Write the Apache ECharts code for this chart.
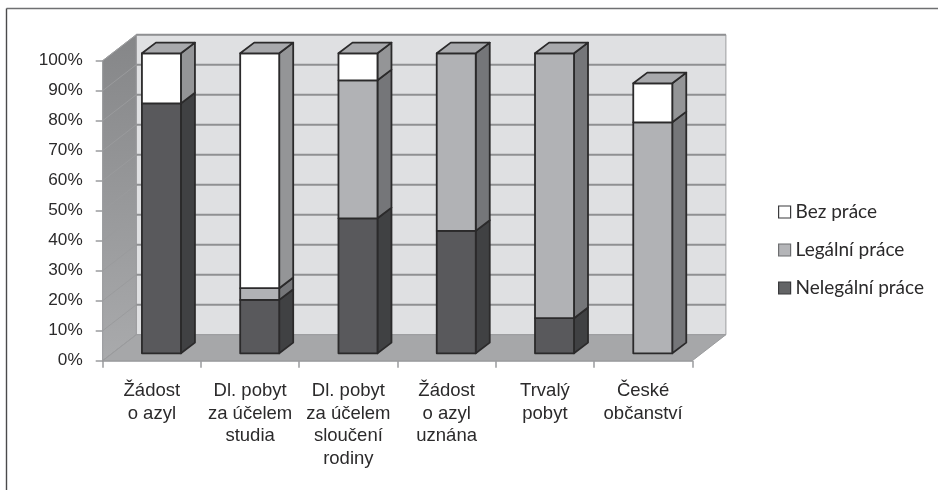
<!DOCTYPE html>
<html>
<head>
<meta charset="utf-8">
<style>
  html, body { margin: 0; padding: 0; background: #fff; }
  #chart { width: 938px; height: 490px; }
</style>
</head>
<body>
<div id="chart"></div>
<script src="https://cdn.jsdelivr.net/npm/echarts@6/dist/echarts.min.js"></script>
<script>
// data
var categories = ['Žádost\no azyl', 'Dl. pobyt\nza účelem\nstudia', 'Dl. pobyt\nza účelem\nsloučení\nrodiny', 'Žádost\no azyl\nuznána', 'Trvalý\npobyt', 'České\nobčanství'];
var nelegalni = [83.3, 17.8, 45, 40.8, 11.7, 0];
var legalni = [0, 3.9, 46, 59.2, 88.3, 77];
var bezPrace = [16.7, 78.3, 9, 0, 0, 13];
var yTicks = [0, 10, 20, 30, 40, 50, 60, 70, 80, 90, 100];

// "3D" look: depth of the room and of the boxes, in px
var DEPTH_X = 33.6, DEPTH_Y = -26;
var BAR_DX = 9.6, BAR_DY = -7.4;
var BOX_DX = 14, BOX_DY = -10.7;
var BAR_W = 39;
var LINE = '#2b2a2b';

var chart = echarts.init(document.getElementById('chart'));

// back wall, side wall, floor and their gridlines
var renderRoom = function (params, api) {
  var x0 = api.coord([0, 0])[0] - api.size([1, 0])[0] / 2;
  var x1 = x0 + api.size([1, 0])[0] * categories.length;
  var yBottom = api.coord([0, 0])[1];
  var yTop = api.coord([0, 100])[1];
  var bg = function (pts, fill) {
    return { type: 'polygon', shape: { points: pts }, style: { fill: fill, stroke: '#9b9c9e', lineWidth: 1 } };
  };
  var children = [
    bg([[x0 + DEPTH_X, yTop + DEPTH_Y], [x1 + DEPTH_X, yTop + DEPTH_Y], [x1 + DEPTH_X, yBottom + DEPTH_Y], [x0 + DEPTH_X, yBottom + DEPTH_Y]], '#dfe0e2'),
    bg([[x0, yTop], [x0 + DEPTH_X, yTop + DEPTH_Y], [x0 + DEPTH_X, yBottom + DEPTH_Y], [x0, yBottom]], {
      type: 'linear', x: 0, y: 0, x2: 0, y2: 1,
      colorStops: [{ offset: 0, color: '#858688' }, { offset: 1, color: '#a9aaac' }]
    }),
    bg([[x0, yBottom], [x1, yBottom], [x1 + DEPTH_X, yBottom + DEPTH_Y], [x0 + DEPTH_X, yBottom + DEPTH_Y]], '#a6a7a9')
  ];
  yTicks.forEach(function (t) {
    var y = api.coord([0, t])[1];
    if (t > 0) {
      children.push({ type: 'line', shape: { x1: x0 + DEPTH_X, y1: y + DEPTH_Y, x2: x1 + DEPTH_X, y2: y + DEPTH_Y }, style: { stroke: '#8f9092', lineWidth: 2 } });
    }
    children.push({ type: 'line', shape: { x1: x0, y1: y, x2: x0 + DEPTH_X, y2: y + DEPTH_Y }, style: { stroke: '#9a9b9d', lineWidth: 1 } });
  });
  return { type: 'group', children: children };
};

// one stacked segment of a box; base is what lies under it
var boxRenderer = function (values, bases, front, side, top, showTopOf) {
  return function (params, api) {
    var i = params.dataIndex;
    if (!values[i]) return null;
    var c = api.coord([i, bases[i]]);
    var yLow = c[1] + BAR_DY;
    var yHigh = api.coord([i, bases[i] + values[i]])[1] + BAR_DY;
    var xl = c[0] + BAR_DX - BAR_W / 2;
    var xr = xl + BAR_W;
    var stroke = { stroke: LINE, lineWidth: 1.8, lineJoin: 'round' };
    var poly = function (pts, fill) {
      return { type: 'polygon', shape: { points: pts }, style: Object.assign({ fill: fill }, stroke) };
    };
    var children = [
      poly([[xr, yLow], [xr + BOX_DX, yLow + BOX_DY], [xr + BOX_DX, yHigh + BOX_DY], [xr, yHigh]], side),
      poly([[xl, yLow], [xr, yLow], [xr, yHigh], [xl, yHigh]], front)
    ];
    if (showTopOf[i]) {
      children.push(poly([[xl, yHigh], [xr, yHigh], [xr + BOX_DX, yHigh + BOX_DY], [xl + BOX_DX, yHigh + BOX_DY]], top));
    }
    return { type: 'group', children: children };
  };
};

var zeros = categories.map(function () { return 0; });
var legalBase = nelegalni.slice();
var bezBase = nelegalni.map(function (v, i) { return v + legalni[i]; });
var nelegalTop = categories.map(function () { return false; });
var legalTop = bezPrace.map(function (v) { return !v; });
var bezTop = bezPrace.map(function (v) { return !!v; });

var axisFont = { fontFamily: '"Liberation Sans", Arial, sans-serif', color: '#2b2a2b' };

var option = {
  backgroundColor: '#fff',
  animation: false,
  graphic: [
    { type: 'line', shape: { x1: 6.5, y1: 8.5, x2: 938, y2: 8.5 }, style: { stroke: '#6f7072', lineWidth: 1.4 } },
    { type: 'line', shape: { x1: 6.5, y1: 8.5, x2: 6.5, y2: 490 }, style: { stroke: '#4a4a4c', lineWidth: 1.4 } }
  ],
  grid: { left: 102.7, right: 245.7, top: 60.7, bottom: 129.3 },
  legend: {
    orient: 'vertical',
    left: 773,
    top: 196,
    itemWidth: 12,
    itemHeight: 12,
    itemGap: 16,
    icon: 'rect',
    textStyle: { fontFamily: 'Lato, sans-serif', fontSize: 19, lineHeight: 22, color: '#2b2a2b' },
    data: [
      { name: 'Bez práce', itemStyle: { color: '#ffffff', borderColor: '#3a3a3c', borderWidth: 1.2 } },
      { name: 'Legální práce', itemStyle: { color: '#b4b5b8', borderColor: '#6d6e70', borderWidth: 1.2 } },
      { name: 'Nelegální práce', itemStyle: { color: '#636466', borderColor: '#3a3a3c', borderWidth: 1.2 } }
    ]
  },
  xAxis: {
    type: 'category',
    data: categories,
    axisLine: { lineStyle: { color: '#9b9c9e', width: 1.5 } },
    axisTick: { show: true, alignWithLabel: false, length: 7, lineStyle: { color: '#9b9c9e', width: 1.5 } },
    axisLabel: Object.assign({ interval: 0, fontSize: 18.5, lineHeight: 22.6, margin: 19, verticalAlign: 'top' }, axisFont)
  },
  yAxis: {
    type: 'value',
    min: 0,
    max: 100,
    interval: 10,
    axisLine: { show: true, lineStyle: { color: '#9b9c9e', width: 1.5 } },
    axisTick: { show: true, length: 7, lineStyle: { color: '#9b9c9e', width: 1.5 } },
    splitLine: { show: false },
    axisLabel: Object.assign({ fontSize: 17.2, margin: 20, formatter: '{value}%' }, axisFont)
  },
  series: [
    { name: 'room', type: 'custom', z: 1, silent: true, clip: false, renderItem: renderRoom, data: [0] },
    { name: 'Nelegální práce', type: 'custom', z: 2, clip: false, itemStyle: { color: '#636466' }, data: nelegalni,
      renderItem: boxRenderer(nelegalni, zeros, '#59595c', '#404143', '#59595c', nelegalTop) },
    { name: 'Legální práce', type: 'custom', z: 3, clip: false, itemStyle: { color: '#b4b5b8' }, data: legalni,
      renderItem: boxRenderer(legalni, legalBase, '#b1b2b5', '#757679', '#a8a9ac', legalTop) },
    { name: 'Bez práce', type: 'custom', z: 4, clip: false, itemStyle: { color: '#ffffff' }, data: bezPrace,
      renderItem: boxRenderer(bezPrace, bezBase, '#ffffff', '#949597', '#a8a9ac', bezTop) }
  ]
};

chart.setOption(option);
</script>
</body>
</html>
